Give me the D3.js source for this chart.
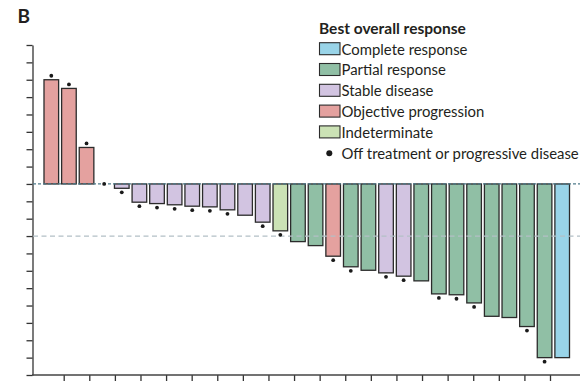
<!DOCTYPE html>
<html>
<head>
<meta charset="utf-8">
<script src="https://cdn.jsdelivr.net/npm/d3@7"></script>
<style>
  body { margin: 0; background: #fff; }
  text { font-family: Lato, "Noto Sans", sans-serif; fill: #231f20; }
</style>
</head>
<body>
<script>
// best percentage change from baseline, one bar per patient (sorted)
var patients = d3.range(1, 31);
var change = [60, 55, 21, 0, -2.5, -10.5, -11.3, -12, -12.8, -13.2,
              -14.9, -18, -22, -27, -33.2, -35.5, -41.6, -47.7, -49.7, -51.2,
              -53.1, -55.8, -63.3, -63.8, -68.5, -76.2, -76.9, -82.1, -100, -100];
var response = ["OP", "OP", "OP", "SD", "SD", "SD", "SD", "SD", "SD", "SD",
                "SD", "SD", "SD", "IN", "PR", "PR", "OP", "PR", "PR", "SD",
                "SD", "PR", "PR", "PR", "PR", "PR", "PR", "PR", "PR", "CR"];
var offTreatment = [1, 1, 1, 1, 1, 1, 1, 1, 1, 1,
                    1, 0, 1, 1, 0, 0, 1, 1, 0, 1,
                    1, 0, 1, 1, 1, 0, 0, 1, 1, 0];

// legend
var legendKeys = ["CR", "PR", "SD", "OP", "IN"];
var legendLabels = ["Complete response", "Partial response", "Stable disease",
                    "Objective progression", "Indeterminate"];
var legendColors = ["#99d4e8", "#90bfa5", "#d2c4e1", "#e4a19f", "#cbe2b5"];

var yTicks = d3.range(-110, 81, 10);
var xTicks = d3.range(1, 21);

var W = 580, H = 381;

var svg = d3.select("body").append("svg")
    .attr("width", W)
    .attr("height", H);

var color = d3.scaleOrdinal().domain(legendKeys).range(legendColors);

var x = d3.scaleBand()
    .domain(patients)
    .range([42.5, 571])
    .paddingInner(0.17)
    .paddingOuter(0.085);

var y = d3.scaleLinear().domain([-110, 80]).range([375, 45]);

var xt = d3.scaleLinear().domain([1, 20]).range([63.7, 550]);

// panel letter
svg.append("text")
    .attr("x", 17.5)
    .attr("y", 22.5)
    .attr("font-size", 19)
    .attr("font-weight", "bold")
    .text("B");

// axes
var yAxis = svg.append("g")
    .attr("transform", "translate(32.5,0)")
    .call(d3.axisLeft(y).tickValues(yTicks).tickFormat("").tickSize(6).tickSizeOuter(0));
yAxis.selectAll("path, line").attr("stroke", "#333").attr("stroke-width", 1.3);

var xAxis = svg.append("g")
    .attr("transform", "translate(0,375)")
    .call(d3.axisBottom(xt).tickValues(xTicks).tickFormat("").tickSize(6));
xAxis.select(".domain").remove();
xAxis.selectAll("line").attr("stroke", "#333").attr("stroke-width", 1.3);
svg.append("line")
    .attr("x1", 32).attr("x2", W)
    .attr("y1", 375).attr("y2", 375)
    .attr("stroke", "#444").attr("stroke-width", 1.4);

// bars
svg.append("g").selectAll("rect")
    .data(patients)
    .join("rect")
    .attr("x", function(d) { return x(d); })
    .attr("y", function(d, i) { return y(Math.max(0, change[i])); })
    .attr("width", x.bandwidth())
    .attr("height", function(d, i) { return Math.abs(y(change[i]) - y(0)); })
    .attr("fill", function(d, i) { return color(response[i]); })
    .attr("stroke", function(d, i) { return change[i] == 0 ? "none" : "#2b2b2b"; })
    .attr("stroke-width", 1.3);

// reference lines at 0% and -30%
svg.append("line")
    .attr("x1", 33).attr("x2", W)
    .attr("y1", y(0)).attr("y2", y(0))
    .attr("stroke", "#4f7b8a").attr("stroke-width", 1.2)
    .attr("stroke-dasharray", "3,2");
svg.append("line")
    .attr("x1", 33).attr("x2", W)
    .attr("y1", y(-30)).attr("y2", y(-30))
    .attr("stroke", "#b3c0c6").attr("stroke-width", 1.2)
    .attr("stroke-dasharray", "5,3.5");

// dots for off treatment / progressive disease
svg.append("g").selectAll("circle")
    .data(patients.filter(function(d, i) { return offTreatment[i]; }))
    .join("circle")
    .attr("cx", function(d) { return x(d) + x.bandwidth() / 2; })
    .attr("cy", function(d) {
        var v = change[d - 1];
        if (v > 0) return y(v) - 4;
        if (v < 0) return y(v) + 4;
        return y(0);
    })
    .attr("r", 1.9)
    .attr("fill", "#1a1a1a");

// legend
var legend = svg.append("g").attr("transform", "translate(319,0)");
legend.append("text")
    .attr("x", 0).attr("y", 34)
    .attr("font-size", 15.5)
    .attr("font-weight", "bold")
    .text("Best overall response");

legendKeys.forEach(function(k, i) {
    var top = 42.7 + i * 20.8;
    legend.append("rect")
        .attr("x", 0.5).attr("y", top)
        .attr("width", 20.5).attr("height", 12)
        .attr("fill", color(k))
        .attr("stroke", "#2b2b2b").attr("stroke-width", 1.1);
    legend.append("text")
        .attr("x", 22.5).attr("y", top + 11.8)
        .attr("font-size", 14.9)
        .text(legendLabels[i]);
});
legend.append("circle")
    .attr("cx", 10.3).attr("cy", 153.2)
    .attr("r", 3)
    .attr("fill", "#1a1a1a");
legend.append("text")
    .attr("x", 22.5).attr("y", 158.8)
    .attr("font-size", 14.9)
    .text("Off treatment or progressive disease");
</script>
</body>
</html>
